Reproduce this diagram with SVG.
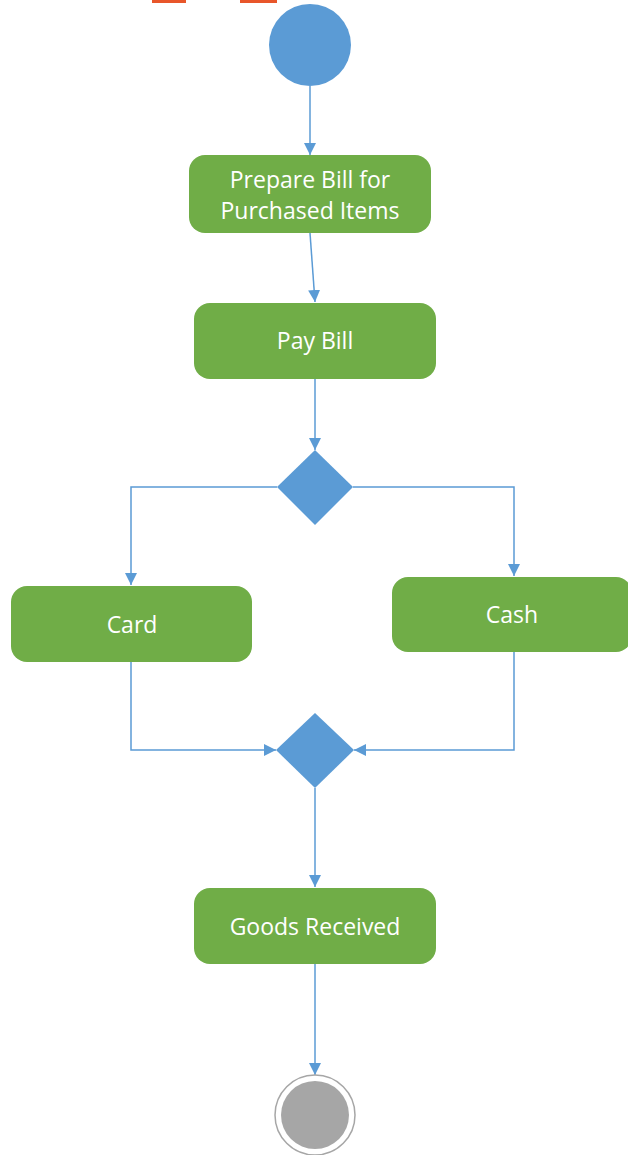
<svg xmlns="http://www.w3.org/2000/svg" width="628" height="1155" viewBox="0 0 628 1155">
  <style>
    .act { fill: #70ad47; }
    .lbl { font-family: "Open Sans", "Liberation Sans", sans-serif; font-size: 23px; fill: #ffffff; text-anchor: middle; dominant-baseline: central; }
    .dec { fill: #5b9bd5; }
    .flow { fill: none; stroke: #5b9bd5; stroke-width: 1.5; marker-end: url(#arrow); }
  </style>
  <defs>
    <marker id="arrow" markerUnits="userSpaceOnUse" markerWidth="12" markerHeight="12" viewBox="0 0 12 12" refX="12" refY="6" orient="auto">
      <path d="M0,0 L12,6 L0,12 z" fill="#5b9bd5"/>
    </marker>
  </defs>

  <rect x="152" y="0" width="34" height="3" fill="#e8562a"/>
  <rect x="240" y="0" width="37" height="3" fill="#e8562a"/>

  <g id="connectors">
    <path class="flow" d="M310,86 L310,155"/>
    <path class="flow" d="M310,233 L315,302"/>
    <path class="flow" d="M315,379 L315,450"/>
    <path class="flow" d="M277,487 L131,487 L131,585"/>
    <path class="flow" d="M353,487 L514,487 L514,576"/>
    <path class="flow" d="M131,662 L131,750 L276,750"/>
    <path class="flow" d="M514,652 L514,750 L354,750"/>
    <path class="flow" d="M315,788 L315,887"/>
    <path class="flow" d="M315,964 L315,1075"/>
  </g>

  <g id="start">
    <circle cx="310" cy="45" r="41" fill="#5b9bd5"/>
  </g>

  <g id="prepare-bill">
    <rect class="act" x="189" y="155" width="242" height="78" rx="16"/>
    <text class="lbl" x="310" y="179">Prepare Bill for</text>
    <text class="lbl" x="310" y="210">Purchased Items</text>
  </g>

  <g id="pay-bill">
    <rect class="act" x="194" y="303" width="242" height="76" rx="16"/>
    <text class="lbl" x="315" y="340">Pay Bill</text>
  </g>

  <g id="decision">
    <polygon class="dec" points="315,450 353,487 315,525 277,487"/>
  </g>

  <g id="card">
    <rect class="act" x="11" y="586" width="241" height="76" rx="16"/>
    <text class="lbl" x="132" y="624">Card</text>
  </g>

  <g id="cash">
    <rect class="act" x="392" y="577" width="240" height="75" rx="16"/>
    <text class="lbl" x="512" y="614">Cash</text>
  </g>

  <g id="merge">
    <polygon class="dec" points="315,713 354,750 315,788 276,750"/>
  </g>

  <g id="goods-received">
    <rect class="act" x="194" y="888" width="242" height="76" rx="16"/>
    <text class="lbl" x="315" y="926">Goods Received</text>
  </g>

  <g id="end">
    <circle cx="315" cy="1115" r="40" fill="#ffffff" stroke="#a6a6a6" stroke-width="1.5"/>
    <circle cx="315" cy="1115" r="34" fill="#a6a6a6"/>
  </g>
</svg>
